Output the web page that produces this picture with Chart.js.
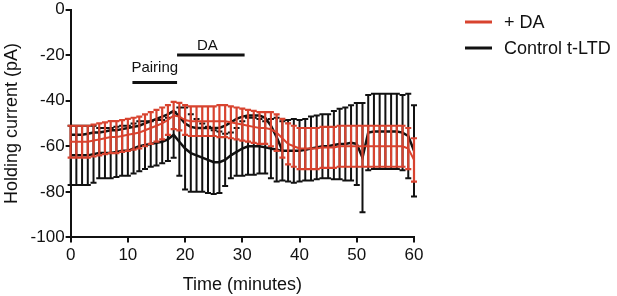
<!DOCTYPE html>
<html>
<head>
<meta charset="utf-8">
<script src="https://cdn.jsdelivr.net/npm/chart.js@4"></script>
<style>
  html, body { margin: 0; padding: 0; background: #fff; }
  #wrap { width: 617px; height: 296px; position: relative; }
</style>
</head>
<body>
<div id="wrap"><canvas id="chart" width="617" height="296"></canvas></div>
<script>
/* ─── Data ───────────────────────────────────────────────────────────────── */
const minutes = [0, 1, 2, 3, 4, 5, 6, 7, 8, 9, 10, 11, 12, 13, 14, 15, 16, 17, 18, 19,
  20, 21, 22, 23, 24, 25, 26, 27, 28, 29, 30, 31, 32, 33, 34, 35, 36, 37, 38, 39,
  40, 41, 42, 43, 44, 45, 46, 47, 48, 49, 50, 51, 52, 53, 54, 55, 56, 57, 58, 59, 60];

const daMean = [-58, -58, -58, -58, -57.5, -57, -56.5, -56, -56, -55.5, -55, -54.5, -54, -53, -52, -51, -50, -48.5, -46.5, -47,
  -48.5, -49, -49, -49, -49, -49, -49, -49, -49.5, -50, -50.5, -51, -51.5, -52, -52, -52.5, -54, -56.5, -59, -60,
  -61, -61, -61, -61, -60.5, -60.5, -60.5, -60, -60, -60, -60, -60, -60, -60, -60, -60, -60, -60, -60, -61, -66];
const daSem = [7, 7, 7, 7, 7, 7, 7, 7, 7, 7, 7, 7, 7, 7, 7, 7, 7, 6.5, 6, 6,
  6.5, 6.5, 6.5, 6.5, 6.5, 6.5, 7, 7, 7, 7, 7, 7, 7, 7, 7, 7.5, 8, 8.5, 9, 9,
  9, 9, 9, 9, 9, 9, 9, 9, 9, 9, 9, 9, 9, 9, 9, 9, 9, 9, 9, 9, 9.5];

const ctrlMean = [-64, -64, -64, -64, -63.5, -63, -63, -63, -62.5, -62, -62, -61, -60, -59.5, -59, -58.5, -58, -57, -55, -58,
  -61, -63, -64, -65, -66, -67, -67, -66, -64, -62.5, -61, -60, -60, -60, -60.5, -61, -61.5, -62, -62, -62,
  -62, -61.5, -61, -60.5, -60, -60, -59.5, -59, -59, -58.5, -59, -65, -54, -53.5, -53.5, -53.5, -53.5, -53.5, -54, -55.5, -62];
const ctrlSem = [13, 13, 13, 13, 12.5, 11, 11, 11, 11, 11, 11, 11, 11, 10.5, 10, 10, 9.5, 9.5, 10, 15,
  18, 17, 16, 15, 14.5, 14, 13.5, 11.5, 10, 10.5, 12, 12.5, 12.5, 12, 11.5, 13, 14, 13, 13.5, 14,
  13.5, 13.5, 14, 14, 14, 14, 15, 15.5, 16, 16.5, 18, 24, 16.5, 16.5, 16.5, 16.5, 16.5, 16.5, 16.5, 18.5, 20];

// second black trace, visible between the red bars up to ~37 min
const ctrlUpper = [-55, -55, -55, -54.5, -54, -54, -53.5, -53, -53, -52.5, -52, -51.5, -51, -50, -49, -48, -47, -46, -44.5, -47,
  -50, -51.5, -52, -52, -52, -52, -52, -51, -49.5, -48, -47, -46.5, -46.5, -46.5, -47.5, -51, -56, -62, null, null,
  null, null, null, null, null, null, null, null, null, null, null, null, null, null, null, null, null, null, null, null, null];

const pairingSpan = [10.8, 18.6];
const pairingLevel = -32;
const daSpan = [18.6, 30.4];
const daLevel = -20;

const yTicks = [0, -20, -40, -60, -80, -100];
const xTicks = [0, 10, 20, 30, 40, 50, 60];

/* ─── Styling ────────────────────────────────────────────────────────────── */
const RED   = '#d8432f';
const BLACK = '#111111';
const FONT  = '"Liberation Sans", Arial, Helvetica, sans-serif';

function pts(ys) {
  return minutes.map((m, i) => ({ x: m, y: ys[i] }));
}

/* ─── Plugins ────────────────────────────────────────────────────────────── */
const errorBars = {
  id: 'errorBars',
  beforeDatasetDraw(chart, args) {
    const ds = chart.data.datasets[args.index];
    if (!ds.sem) return;
    const { ctx, scales: { x, y } } = chart;
    ctx.save();
    ctx.strokeStyle = ds.borderColor;
    ctx.lineWidth = ds.barWidth;
    ctx.beginPath();
    ds.data.forEach((p, i) => {
      if (p.y == null) return;
      const px  = x.getPixelForValue(p.x);
      const top = y.getPixelForValue(p.y + ds.sem[i]);
      const bot = y.getPixelForValue(p.y - ds.sem[i]);
      ctx.moveTo(px, top); ctx.lineTo(px, bot);
      ctx.moveTo(px - ds.capHalf, top); ctx.lineTo(px + ds.capHalf, top);
      ctx.moveTo(px - ds.capHalf, bot); ctx.lineTo(px + ds.capHalf, bot);
    });
    ctx.stroke();
    ctx.restore();
  }
};

const extras = {
  id: 'extras',
  afterDraw(chart) {
    const { ctx, scales: { x, y } } = chart;
    ctx.save();
    // protocol bars
    ctx.strokeStyle = BLACK;
    ctx.lineWidth = 3;
    ctx.beginPath();
    ctx.moveTo(x.getPixelForValue(pairingSpan[0]), y.getPixelForValue(pairingLevel));
    ctx.lineTo(x.getPixelForValue(pairingSpan[1]), y.getPixelForValue(pairingLevel));
    ctx.moveTo(x.getPixelForValue(daSpan[0]), y.getPixelForValue(daLevel));
    ctx.lineTo(x.getPixelForValue(daSpan[1]), y.getPixelForValue(daLevel));
    ctx.stroke();

    ctx.fillStyle = BLACK;
    ctx.font = `15px ${FONT}`;
    ctx.textAlign = 'center';
    ctx.textBaseline = 'alphabetic';
    ctx.fillText('Pairing', x.getPixelForValue((pairingSpan[0] + pairingSpan[1]) / 2), y.getPixelForValue(pairingLevel) - 10);
    ctx.fillText('DA', x.getPixelForValue(23.9), y.getPixelForValue(daLevel) - 5);

    // legend
    const items = [
      { label: '+ DA', color: RED, y: 22 },
      { label: 'Control t-LTD', color: BLACK, y: 48 }
    ];
    ctx.font = `18px ${FONT}`;
    ctx.textAlign = 'left';
    ctx.textBaseline = 'middle';
    items.forEach(it => {
      ctx.strokeStyle = it.color;
      ctx.lineWidth = 3;
      ctx.beginPath();
      ctx.moveTo(465, it.y);
      ctx.lineTo(492, it.y);
      ctx.stroke();
      ctx.fillStyle = BLACK;
      ctx.fillText(it.label, 504, it.y + 1);
    });
    ctx.restore();
  }
};

/* ─── Chart ──────────────────────────────────────────────────────────────── */
const axisCommon = {
  border: { display: true, color: BLACK, width: 2 },
  grid: { display: true, drawOnChartArea: false, drawTicks: true, tickLength: 5, color: BLACK, lineWidth: 2 }
};

new Chart(document.getElementById('chart'), {
  type: 'line',
  data: {
    datasets: [
      {
        label: '+ DA',
        data: pts(daMean),
        sem: daSem,
        borderColor: RED,
        borderWidth: 2,
        barWidth: 2.2,
        capHalf: 3,
        pointRadius: 0,
        tension: 0
      },
      {
        label: 'Control t-LTD',
        data: pts(ctrlMean),
        sem: ctrlSem,
        borderColor: BLACK,
        borderWidth: 2.5,
        barWidth: 2,
        capHalf: 3,
        pointRadius: 0,
        tension: 0
      },
      {
        label: 'Control t-LTD (upper)',
        data: pts(ctrlUpper),
        borderColor: BLACK,
        borderWidth: 2.5,
        pointRadius: 0,
        tension: 0,
        spanGaps: false
      }
    ]
  },
  options: {
    responsive: false,
    animation: false,
    events: [],
    layout: { padding: { left: 0, right: 203, top: 0, bottom: 0 } },
    plugins: { legend: { display: false }, tooltip: { enabled: false } },
    scales: {
      x: {
        type: 'linear',
        min: 0, max: 60,
        afterBuildTicks: s => { s.ticks = xTicks.map(v => ({ value: v })); },
        ticks: { color: BLACK, font: { family: FONT, size: 17, lineHeight: 1 }, padding: 4, maxRotation: 0 },
        title: { display: true, text: 'Time (minutes)', color: BLACK, font: { family: FONT, size: 18 }, padding: { top: 7, bottom: 0 } },
        ...axisCommon
      },
      y: {
        min: -100, max: 0,
        afterBuildTicks: s => { s.ticks = yTicks.map(v => ({ value: v })); },
        ticks: { color: BLACK, font: { family: FONT, size: 17, lineHeight: 1 }, padding: 1 },
        title: { display: true, text: 'Holding current (pA)', color: BLACK, font: { family: FONT, size: 18 }, padding: { top: 1, bottom: 7 } },
        ...axisCommon
      }
    }
  },
  plugins: [errorBars, extras]
});
</script>
</body>
</html>
